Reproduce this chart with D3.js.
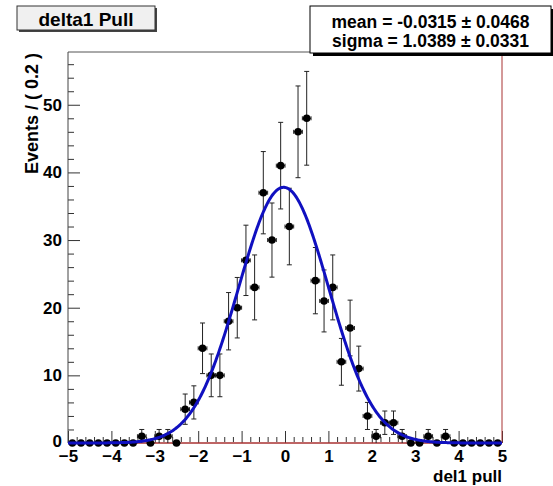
<!DOCTYPE html>
<html>
<head>
<meta charset="utf-8">
<script src="https://cdn.jsdelivr.net/npm/d3@7"></script>
<style>
    body { margin: 0; background: #fff; }
    text { font-family: "Liberation Sans", Arial, sans-serif; font-weight: bold; fill: #000; }
</style>
</head>
<body>
<svg id="chart" width="553" height="486"></svg>
<script>
// Données
const binCenters = [-4.9, -4.7, -4.5, -4.3, -4.1, -3.9, -3.7, -3.5, -3.3, -3.1,
    -2.9, -2.7, -2.5, -2.3, -2.1, -1.9, -1.7, -1.5, -1.3, -1.1,
    -0.9, -0.7, -0.5, -0.3, -0.1, 0.1, 0.3, 0.5, 0.7, 0.9,
    1.1, 1.3, 1.5, 1.7, 1.9, 2.1, 2.3, 2.5, 2.7, 2.9,
    3.1, 3.3, 3.5, 3.7, 3.9, 4.1, 4.3, 4.5, 4.7, 4.9];
const counts = [0, 0, 0, 0, 0, 0, 0, 0, 1, 0,
    1, 1, 0, 5, 6, 14, 10, 10, 18, 20,
    27, 23, 37, 30, 41, 32, 46, 48, 24, 21,
    23, 12, 17, 11, 4, 1, 3, 3, 1, 0,
    0, 1, 0, 1, 0, 0, 0, 0, 0, 0];
const errors = [0, 0, 0, 0, 0, 0, 0, 0, 1, 0,
    1, 1, 0, 2.24, 2.45, 3.74, 3.16, 3.16, 4.24, 4.47,
    5.2, 4.8, 6.08, 5.48, 6.4, 5.66, 6.78, 6.93, 4.9, 4.58,
    4.8, 3.46, 4.12, 3.32, 2, 1, 1.73, 1.73, 1, 0,
    0, 1, 0, 1, 0, 0, 0, 0, 0, 0];
const binWidth = 0.2;
const xTicks = [-5, -4, -3, -2, -1, 0, 1, 2, 3, 4, 5];
const yTicks = [0, 10, 20, 30, 40, 50];

// fit gaussien
const fitMean = -0.0315, fitSigma = 1.0389, fitPeak = 37.8;
const statLines = ["mean = -0.0315 \u00b1 0.0468", "sigma = 1.0389 \u00b1 0.0331"];

const margin = { top: 52, right: 51, bottom: 43, left: 68 },
    width = 553 - margin.left - margin.right,
    height = 486 - margin.top - margin.bottom;

const svg = d3.select("#chart");
const g = svg.append("g").attr("transform", `translate(${margin.left},${margin.top})`);

const x = d3.scaleLinear().domain([-5, 5]).range([0, width]);
const y = d3.scaleLinear().domain([0, 57.8]).range([height, 0]);

// Axes (graduations vers l'intérieur)
const xMinor = d3.range(-5, 5.001, 0.2).filter(v => Math.abs(v - Math.round(v)) > 0.01);
const yMinor = d3.range(0, 57.8, 2).filter(v => v % 10 !== 0);

g.append("g")
    .attr("transform", `translate(0,${height - 1})`)
    .call(d3.axisBottom(x).tickValues(xMinor).tickSize(-5).tickFormat(""))
    .call(a => a.select(".domain").remove());
g.append("g")
    .attr("transform", `translate(0,${height})`)
    .call(d3.axisBottom(x).tickValues(xTicks).tickSize(-12).tickPadding(7).tickFormat(d3.format("d")))
    .call(a => a.select(".domain").remove())
    .call(a => a.selectAll("text").attr("font-size", 17).style("font-family", null));

g.append("g")
    .call(d3.axisLeft(y).tickValues(yMinor).tickSize(-6).tickFormat(""))
    .call(a => a.select(".domain").remove());
g.append("g")
    .call(d3.axisLeft(y).tickValues(yTicks).tickSize(-12).tickPadding(6))
    .call(a => a.select(".domain").remove())
    .call(a => a.selectAll("text").attr("font-size", 17).style("font-family", null))
    .call(a => a.selectAll(".tick").filter(d => d === 0).select("text").attr("dy", "0.2em"));

g.selectAll(".tick line").attr("stroke", "#333");

// Cadre
g.append("line").attr("x1", 0).attr("x2", width).attr("y1", 0).attr("y2", 0).attr("stroke", "#555");
g.append("line").attr("x1", 0).attr("x2", 0).attr("y1", 0).attr("y2", height).attr("stroke", "#444");
g.append("line").attr("x1", width).attr("x2", width).attr("y1", 0).attr("y2", height).attr("stroke", "#a83232");
g.append("line").attr("x1", 0).attr("x2", width).attr("y1", height).attr("y2", height).attr("stroke", "#a83232").attr("stroke-width", 1.5);

// Barres d'erreur
const pts = binCenters.map((c, i) => ({ x: c, n: counts[i], e: errors[i] }));
const withErr = pts.filter(d => d.e > 0);

g.selectAll(".ey").data(withErr).enter().append("line")
    .attr("x1", d => x(d.x)).attr("x2", d => x(d.x))
    .attr("y1", d => y(d.n - d.e)).attr("y2", d => y(d.n + d.e))
    .attr("stroke", "#222");
g.selectAll(".cap-top").data(withErr).enter().append("line")
    .attr("x1", d => x(d.x) - 2.5).attr("x2", d => x(d.x) + 2.5)
    .attr("y1", d => y(d.n + d.e)).attr("y2", d => y(d.n + d.e))
    .attr("stroke", "#222");
g.selectAll(".cap-bot").data(withErr.filter(d => d.n - d.e > 0.05)).enter().append("line")
    .attr("x1", d => x(d.x) - 2.5).attr("x2", d => x(d.x) + 2.5)
    .attr("y1", d => y(d.n - d.e)).attr("y2", d => y(d.n - d.e))
    .attr("stroke", "#222");

// barres horizontales (largeur du bin)
g.selectAll(".ex").data(pts).enter().append("line")
    .attr("x1", d => x(d.x - binWidth / 2)).attr("x2", d => x(d.x + binWidth / 2))
    .attr("y1", d => y(d.n)).attr("y2", d => y(d.n))
    .attr("stroke", "#222");
g.selectAll(".exl").data(pts.filter(d => d.n > 0)).enter().append("line")
    .attr("x1", d => x(d.x - binWidth / 2)).attr("x2", d => x(d.x - binWidth / 2))
    .attr("y1", d => y(d.n) - 2).attr("y2", d => y(d.n) + 2)
    .attr("stroke", "#222");
g.selectAll(".exr").data(pts.filter(d => d.n > 0)).enter().append("line")
    .attr("x1", d => x(d.x + binWidth / 2)).attr("x2", d => x(d.x + binWidth / 2))
    .attr("y1", d => y(d.n) - 2).attr("y2", d => y(d.n) + 2)
    .attr("stroke", "#222");

// Points
g.selectAll("circle").data(pts).enter().append("circle")
    .attr("cx", d => x(d.x)).attr("cy", d => y(d.n))
    .attr("r", 3.8)
    .attr("fill", "#000");

// Courbe du fit
const xs = d3.range(-5, 5.0001, 0.02);
const line = d3.line()
    .x(v => x(v))
    .y(v => y(fitPeak * Math.exp(-0.5 * Math.pow((v - fitMean) / fitSigma, 2))));
g.append("path")
    .datum(xs)
    .attr("d", line)
    .attr("fill", "none")
    .attr("stroke", "#1010c0")
    .attr("stroke-width", 3);

// Titres des axes
svg.append("text")
    .attr("transform", "translate(38,53) rotate(-90)")
    .attr("text-anchor", "end")
    .attr("font-size", 18)
    .text("Events / ( 0.2 )");
svg.append("text")
    .attr("x", 502).attr("y", 482)
    .attr("text-anchor", "end")
    .attr("font-size", 17)
    .text("del1 pull");

// Titre
svg.append("rect").attr("x", 19).attr("y", 8).attr("width", 138).attr("height", 24).attr("fill", "#444");
svg.append("rect").attr("x", 17).attr("y", 6).attr("width", 138).attr("height", 24)
    .attr("fill", "#f0f0f0").attr("stroke", "#333");
svg.append("text").attr("x", 86).attr("y", 26).attr("text-anchor", "middle")
    .attr("font-size", 19).text("delta1 Pull");

// Boîte de stats
svg.append("rect").attr("x", 313).attr("y", 9).attr("width", 241).attr("height", 47).attr("fill", "#000");
svg.append("rect").attr("x", 310).attr("y", 6).attr("width", 241).attr("height", 47)
    .attr("fill", "#fff").attr("stroke", "#000");
svg.selectAll(".stat").data(statLines).enter().append("text")
    .attr("x", 430.5).attr("y", (d, i) => 28 + i * 18.5)
    .attr("text-anchor", "middle")
    .attr("font-size", 17.5)
    .text(d => d);
</script>
</body>
</html>
